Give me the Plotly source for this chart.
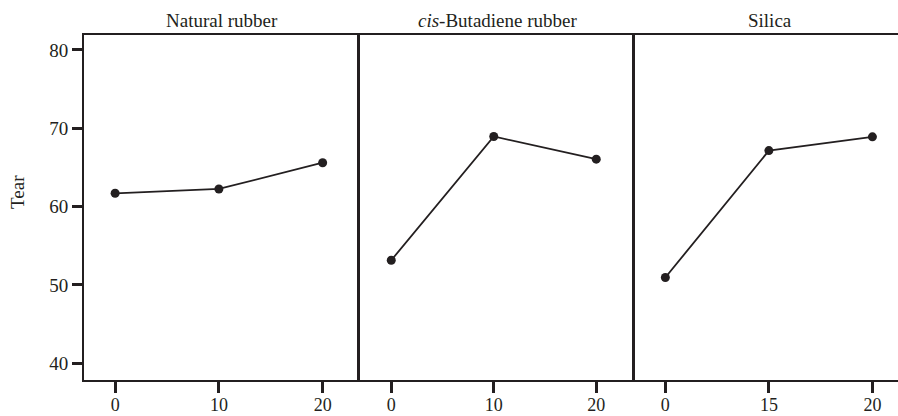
import plotly.graph_objects as go

# Data
panel_titles = ["Natural rubber", "<i>cis</i>-Butadiene rubber", "Silica"]
nr_levels = ["0", "10", "20"]
br_levels = ["0", "10", "20"]
si_levels = ["0", "15", "20"]
nr_tear = [61.7, 62.25, 65.6]
br_tear = [53.15, 68.95, 66.05]
si_tear = [50.95, 67.15, 68.9]
y_ticks = [40, 50, 60, 70, 80]

INK = "#231f20"
FONT = "Liberation Serif"
FS = 19

W, H = 898, 416
ML, MR, MT, MB = 84, 0, 35, 36
pw = W - ML - MR
ph = H - MT - MB

def px_x(x):
    return (x - ML) / pw

def px_y(y):
    return (H - MB - y) / ph

edges = [84, 360, 635, 898]
domains = [[px_x(edges[i]), px_x(edges[i + 1])] for i in range(3)]
ranges = [[-0.3, 2.36], [-0.305, 2.378], [-0.293, 2.247]]

fig = go.Figure()
series = [(nr_levels, nr_tear), (br_levels, br_tear), (si_levels, si_tear)]
for i, (lv, vals) in enumerate(series):
    sfx = "" if i == 0 else str(i + 1)
    fig.add_trace(go.Scatter(
        x=list(range(len(lv))), y=vals,
        xaxis="x" + sfx, yaxis="y" + sfx,
        mode="lines+markers",
        line=dict(color=INK, width=1.8),
        marker=dict(color=INK, size=9),
        showlegend=False, hoverinfo="skip",
    ))

layout = dict(
    width=W, height=H,
    margin=dict(l=ML, r=MR, t=MT, b=MB, autoexpand=False),
    paper_bgcolor="white", plot_bgcolor="white",
    font=dict(family=FONT, size=FS, color=INK),
)
for i in range(3):
    sfx = "" if i == 0 else str(i + 1)
    lv = series[i][0]
    layout["xaxis" + sfx] = dict(
        domain=domains[i], range=ranges[i],
        anchor="y" + sfx, automargin=False,
        tickvals=list(range(len(lv))), ticktext=lv,
        ticks="outside", ticklen=11, tickwidth=3, tickcolor=INK,
        ticklabelstandoff=-4,
        showline=True, linecolor=INK, linewidth=2, mirror=True,
        showgrid=False, zeroline=False,
        tickfont=dict(family=FONT, size=18, color=INK),
        fixedrange=True,
    )
    ydict = dict(
        domain=[0, 1], range=[37.87, 81.9],
        anchor="x" + sfx, automargin=False,
        showline=True, linecolor=INK, linewidth=2.5 if i > 0 else 2,
        showgrid=False, zeroline=False, fixedrange=True,
    )
    if i == 0:
        ydict.update(tickvals=y_ticks, ticks="outside", ticklen=10,
                     tickwidth=3, tickcolor=INK,
                     tickfont=dict(family=FONT, size=FS, color=INK))
    else:
        ydict.update(showticklabels=False, ticks="", matches="y")
    layout["yaxis" + sfx] = ydict

centers = [222, 497.5, 770]
annotations = []
for t, c in zip(panel_titles, centers):
    annotations.append(dict(
        text=t, xref="paper", yref="paper", x=px_x(c), y=px_y(20),
        xanchor="center", yanchor="middle", showarrow=False,
        font=dict(family=FONT, size=FS, color=INK),
    ))
annotations.append(dict(
    text="Tear", xref="paper", yref="paper", x=px_x(17.5), y=px_y(192.5),
    xanchor="center", yanchor="middle", showarrow=False, textangle=-90,
    font=dict(family=FONT, size=FS, color=INK),
))
layout["annotations"] = annotations

fig.update_layout(**layout)
fig.write_html("out.html")
